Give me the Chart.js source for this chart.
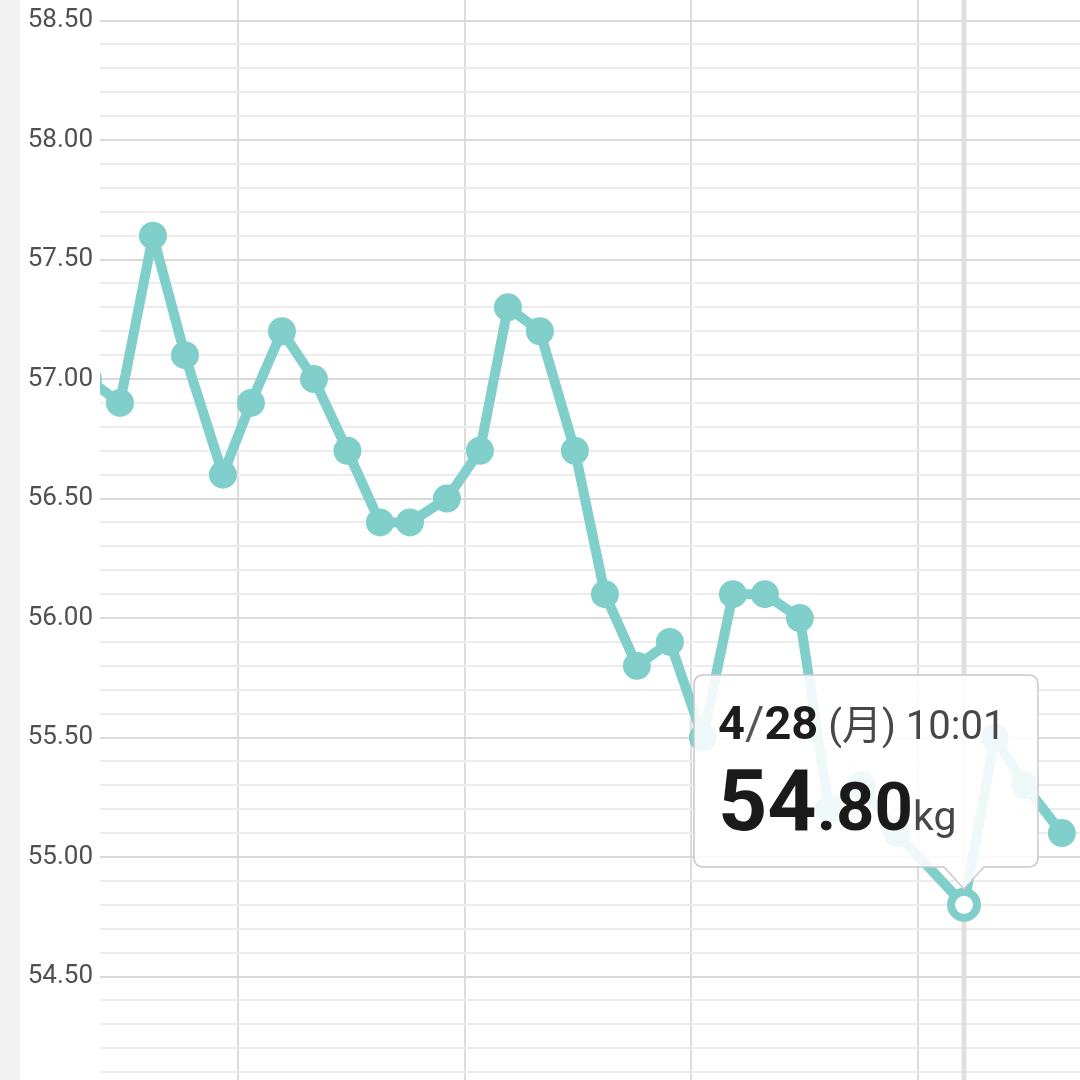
<!DOCTYPE html>
<html>
<head>
<meta charset="utf-8">
<script src="https://cdn.jsdelivr.net/npm/chart.js"></script>
<style>
html, body { margin: 0; padding: 0; background: #f2f2f2; width: 1080px; height: 1080px; overflow: hidden; }
#wrap { position: absolute; left: 20px; top: 0; width: 1060px; height: 1080px; background: #fff; overflow: hidden; }
#tip { position: absolute; display: none; pointer-events: none; }
#tip text { font-family: Roboto, "Noto Sans CJK JP", sans-serif; white-space: pre; }
</style>
</head>
<body>
<div id="wrap">
  <canvas id="chart" width="1060" height="1080"></canvas>
  <svg id="tip" width="348" height="218"></svg>
</div>
<script>
// measurements (month/day time) and weight in kg
const times = ['4/1 08:38', '4/2 08:20', '4/3 08:47', '4/4 08:30', '4/5 12:39', '4/6 09:24', '4/7 08:24', '4/8 08:07',
  '4/9 08:57', '4/10 09:01', '4/11 07:16', '4/12 10:42', '4/13 11:10', '4/14 07:55', '4/15 07:38', '4/16 09:34',
  '4/17 07:49', '4/18 07:32', '4/19 07:59', '4/20 08:27', '4/21 06:42', '4/22 06:24', '4/23 08:21', '4/24 06:00',
  '4/25 06:19', '4/26 08:15', '4/28 10:01', '4/29 08:53', '4/30 07:08', '5/1 10:34'];
const weights = [57.0, 56.9, 57.6, 57.1, 56.6, 56.9, 57.2, 57.0, 56.7, 56.4, 56.4, 56.5, 56.7, 57.3, 57.2, 56.7,
  56.1, 55.8, 55.9, 55.5, 56.1, 56.1, 56.0, 55.2, 55.3, 55.1, 54.8, 55.5, 55.3, 55.1];
const weekLines = ['4/6 00:00', '4/13 00:00', '4/20 00:00', '4/27 00:00'];
const xRange = ['4/1 17:31', '5/2 00:00'];
const yRange = [54.067, 58.586];
const yStep = 0.1, yLabelStep = 0.5;
const activeIndex = 26;
const YEAR = 2025, WEEK = '日月火水木金土';
const TEAL = '#80cfca';

function parse(s) {
  const [md, hm] = s.split(' ');
  const [m, d] = md.split('/').map(Number), [h, mi] = hm.split(':').map(Number);
  return { m, d, h, mi, hm };
}
function toDay(s) {
  const t = parse(s);
  return (Date.UTC(YEAR, t.m - 1, t.d, t.h, t.mi) - Date.UTC(YEAR, 3, 1)) / 864e5 + 1;
}
function isMajor(v) { return Math.abs(v / yLabelStep - Math.round(v / yLabelStep)) < 1e-6; }

const tip = document.getElementById('tip');
const TIP_W = 344, TIP_H = 192, CARET = 22;
function renderTip({ chart, tooltip }) {
  if (!tooltip.opacity || !tooltip.dataPoints || !tooltip.dataPoints.length) { tip.style.display = 'none'; return; }
  const i = tooltip.dataPoints[0].dataIndex;
  const t = parse(times[i]);
  const wd = WEEK[new Date(Date.UTC(YEAR, t.m - 1, t.d)).getUTCDay()];
  const [wi, wf] = weights[i].toFixed(2).split('.');
  const left = Math.min(tooltip.caretX - TIP_W / 2, chart.chartArea.right - 42 - TIP_W);
  const top = tooltip.caretY - 16 - CARET - TIP_H;
  const cx = tooltip.caretX - left + 1, W = TIP_W + 1, H = TIP_H + 1, r = 10;
  const d = `M${1 + r},1 H${W - r} Q${W},1 ${W},${1 + r} V${H - r} Q${W},${H} ${W - r},${H} H${cx + 20} L${cx},${H + CARET} L${cx - 20},${H} H${1 + r} Q1,${H} 1,${H - r} V${1 + r} Q1,1 ${1 + r},1 Z`;
  tip.innerHTML =
    `<path d="${d}" fill="rgba(255,255,255,0.88)" stroke="#c9c9c9" stroke-width="1.5"/>` +
    `<text x="25" y="65"><tspan font-size="47" font-weight="700" fill="#1c1c1c">${t.m}</tspan>` +
    `<tspan font-size="47" font-weight="400" fill="#555">/</tspan>` +
    `<tspan font-size="47" font-weight="700" fill="#1c1c1c">${t.d}</tspan>` +
    `<tspan font-size="40" fill="#474747"> (</tspan><tspan font-size="40" fill="#474747" font-family="Noto Sans CJK JP">${wd}</tspan>` +
    `<tspan font-size="40" fill="#474747">) ${t.hm}</tspan></text>` +
    `<text x="25" y="156"><tspan font-size="86" font-weight="700" fill="#1a1a1a">${wi}</tspan>` +
    `<tspan font-size="67" font-weight="700" fill="#1a1a1a">.${wf}</tspan>` +
    `<tspan font-size="41" fill="#474747">kg</tspan></text>`;
  tip.style.left = (left - 1) + 'px';
  tip.style.top = (top - 1) + 'px';
  tip.style.display = 'block';
}

const crosshair = {
  id: 'crosshair',
  beforeDatasetsDraw(chart) {
    const a = chart.getActiveElements()[0]; if (!a) return;
    const { ctx, chartArea } = chart;
    ctx.save();
    ctx.strokeStyle = '#e0e0e0'; ctx.lineWidth = 5;
    ctx.beginPath(); ctx.moveTo(a.element.x, chartArea.top); ctx.lineTo(a.element.x, chartArea.bottom); ctx.stroke();
    ctx.restore();
  }
};

const chart = new Chart(document.getElementById('chart'), {
  type: 'line',
  data: {
    datasets: [{
      data: times.map((t, i) => ({ x: toDay(t), y: weights[i] })),
      borderColor: TEAL, borderWidth: 10, tension: 0, borderJoinStyle: 'round',
      pointRadius: 13, pointBorderWidth: 2, pointBackgroundColor: TEAL, pointBorderColor: TEAL,
      pointHoverRadius: 13, pointHoverBorderWidth: 8, pointHoverBackgroundColor: '#fff', pointHoverBorderColor: TEAL,
    }]
  },
  options: {
    responsive: false, animation: false, events: [], devicePixelRatio: 1,
    layout: { padding: 0, autoPadding: false },
    scales: {
      x: {
        type: 'linear', min: toDay(xRange[0]), max: toDay(xRange[1]),
        ticks: { display: false },
        grid: { color: '#dcdcdc', lineWidth: 2, drawTicks: false },
        border: { display: false },
        afterBuildTicks(s) { s.ticks = weekLines.map(w => ({ value: toDay(w) })); },
        afterFit(s) { s.height = 0; s.paddingLeft = 0; s.paddingRight = 0; },
      },
      y: {
        min: yRange[0], max: yRange[1],
        ticks: {
          stepSize: yStep, includeBounds: false, autoSkip: false, padding: 7,
          color: '#505050', font: { family: 'Roboto', size: 26 },
          callback: v => isMajor(v) ? v.toFixed(2) : '',
        },
        grid: { color: c => isMajor(c.tick.value) ? '#d9d9d9' : '#ececec', lineWidth: 2, drawTicks: false },
        border: { display: false },
        afterFit(s) { s.width = 80; s.paddingTop = 0; s.paddingBottom = 0; },
      }
    },
    plugins: {
      legend: { display: false },
      tooltip: { enabled: false, mode: 'nearest', intersect: false, external: renderTip },
    }
  },
  plugins: [crosshair]
});

const active = [{ datasetIndex: 0, index: activeIndex }];
const el = chart.getDatasetMeta(0).data[activeIndex];
chart.setActiveElements(active);
chart.tooltip.setActiveElements(active, { x: el.x, y: el.y });
chart.update();
</script>
</body>
</html>
